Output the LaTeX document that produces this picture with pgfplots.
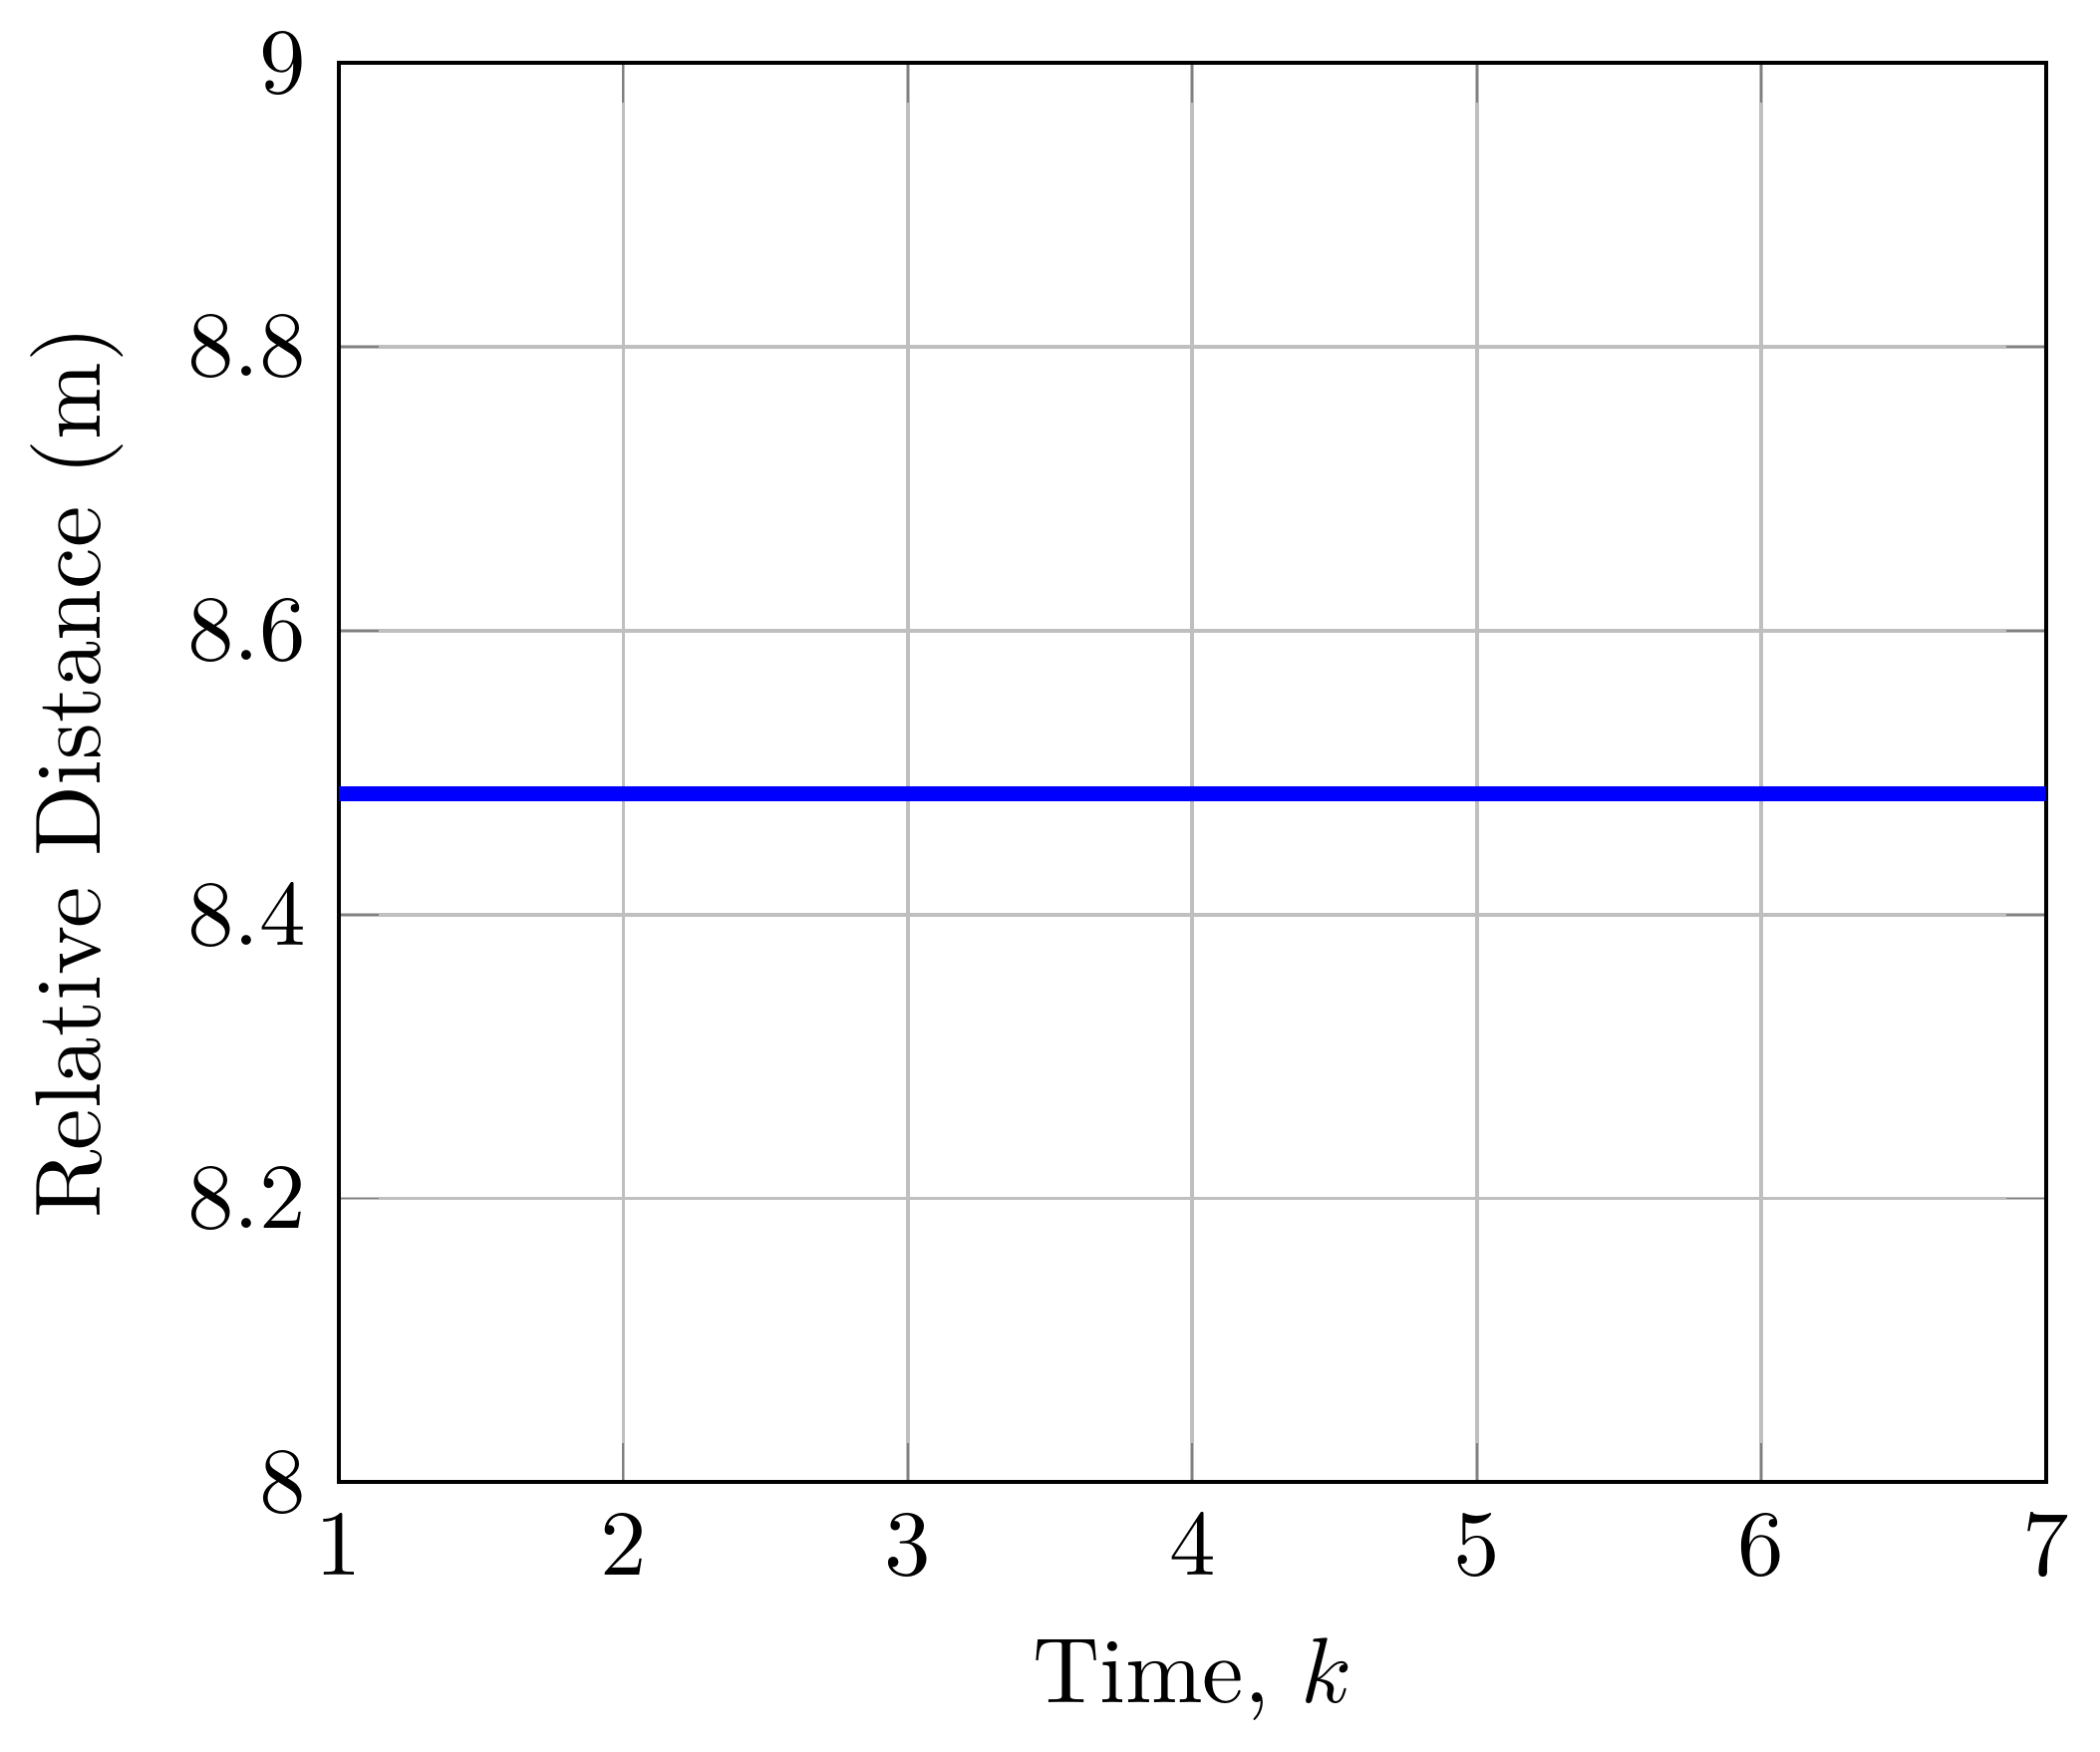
\documentclass[border=0pt]{standalone}
\usepackage{pgfplots}
\pgfplotsset{compat=1.18}
\begin{document}
\begin{tikzpicture}
\begin{axis}[
  scale only axis,
  width=184pt, height=153pt,
  xmin=1, xmax=7, ymin=8, ymax=9,
  xtick={1,2,3,4,5,6,7},
  ytick={8,8.2,8.4,8.6,8.8,9},
  yticklabels={8,8.2,8.4,8.6,8.8,9},
  grid=major,
  axis line style={line width=0.45pt},
  xlabel={Time, $k$},
  ylabel={Relative Distance (m)},
]
\addplot[blue, ultra thick] coordinates {(1,8.485) (2,8.485) (3,8.485) (4,8.485) (5,8.485) (6,8.485) (7,8.485)};
\end{axis}
\end{tikzpicture}
\end{document}
